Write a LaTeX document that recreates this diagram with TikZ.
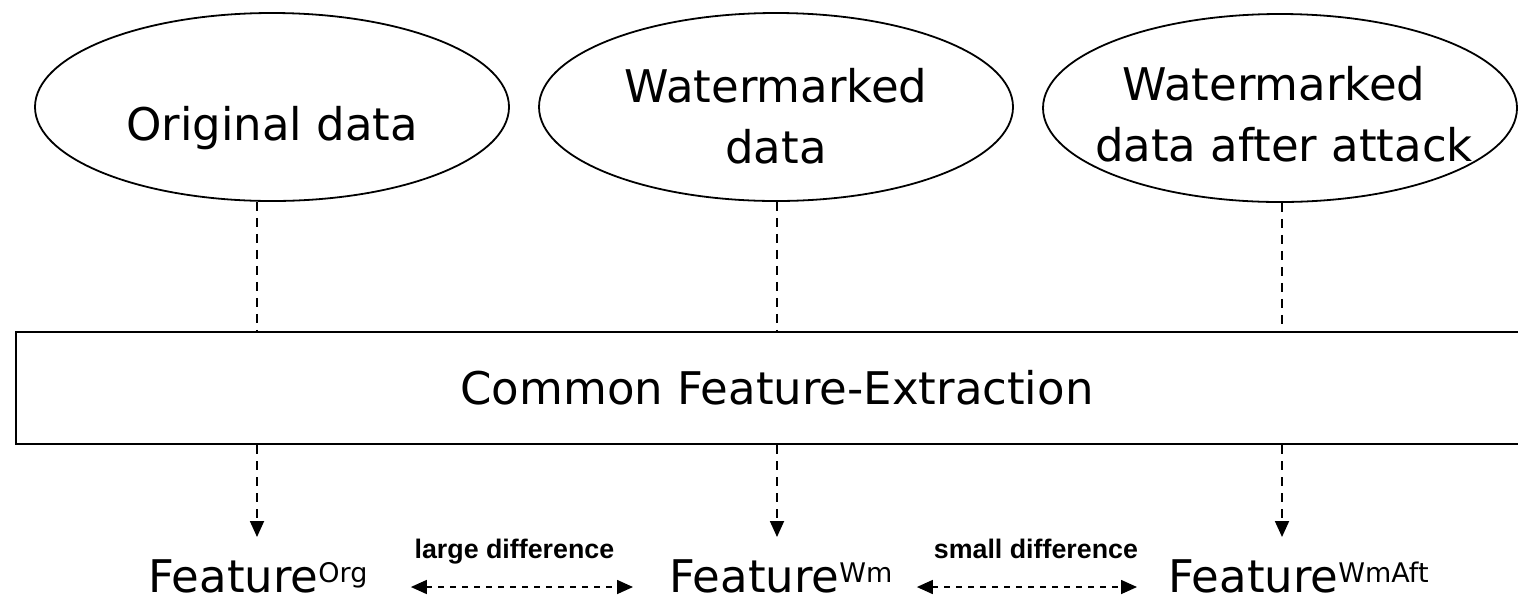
\documentclass[tikz,border=0pt]{standalone}
\usepackage{fontspec}
\setmainfont{DejaVu Sans}
\newfontfamily\lblfont{Liberation Sans}
\usetikzlibrary{arrows.meta,shapes.geometric}
\newcommand\featsup[1]{\raisebox{5pt}{\fontsize{13.5}{16}\selectfont #1}}
\begin{document}
\begin{tikzpicture}[x=0.5pt,y=-0.5pt,
  oval/.style={draw, ellipse, line width=0.9pt, minimum width=237pt, minimum height=94pt, inner sep=0pt},
  big/.style={font=\fontsize{22.5}{27}\selectfont, inner sep=0pt},
  lbl/.style={font=\lblfont\bfseries\fontsize{13.4}{16}\selectfont, inner sep=0pt},
  vdash/.style={line width=0.9pt, dash pattern=on 4.5pt off 3.5pt},
  tipv/.style={-{Triangle[length=8pt,width=7pt]}},
  hdash/.style={line width=0.8pt, dash pattern=on 3pt off 3pt,
    {Triangle[length=8pt,width=7pt]}-{Triangle[length=8pt,width=7pt]}}]
\useasboundingbox (0,0) rectangle (1518,601);
\clip (0,0) rectangle (1518,601);
% ellipses
\node[oval] (e1) at (272,107) {};
\node[oval] (e2) at (776,107) {};
\node[oval] (e3) at (1280,108) {};
\node[big, anchor=base] (t1) at (272,140) {Original data};
\node[big, anchor=base] (t2a) at (776,102) {Watermarked};
\node[big, anchor=base] (t2b) at (776,163) {data};
\node[big, anchor=base] (t3a) at (1274,100) {Watermarked};
\node[big, anchor=base] (t3b) at (1284,161) {data after attack};
% common box
\node[draw, line width=1pt, big, minimum width=761pt, minimum height=56pt] (box) at (777,388) {Common Feature-Extraction};
% arrow tips
\coordinate (a1) at (257,537);
\coordinate (a2) at (777,537);
\coordinate (a3) at (1282,537);
\draw[vdash] (e1.south -| a1) -- (box.north -| a1);
\draw[vdash] (e2.south -| a2) -- (box.north -| a2);
\draw[vdash] (e3.south -| a3) -- (box.north -| a3);
\draw[vdash, tipv] (box.south -| a1) -- (a1);
\draw[vdash, tipv] (box.south -| a2) -- (a2);
\draw[vdash, tipv] (box.south -| a3) -- (a3);
% features
\node[big, anchor=base west] (f1) at (148,592) {Feature\featsup{Org}};
\node[big, anchor=base west] (f2) at (669,592) {Feature\featsup{Wm}};
\node[big, anchor=base west] (f3) at (1168,592) {Feature\featsup{WmAft}};
\draw[hdash, shorten <=21.5pt, shorten >=18pt] ([yshift=2.5pt]f1.base east) -- ([yshift=2.5pt]f2.base west)
  node[lbl, midway, anchor=base, yshift=14.5pt, xshift=-2pt] {large difference};
\draw[hdash, shorten <=12pt, shorten >=15.5pt] ([yshift=2.5pt]f2.base east) -- ([yshift=2.5pt]f3.base west)
  node[lbl, midway, anchor=base, yshift=14.5pt, xshift=2.75pt] {small difference};
\end{tikzpicture}
\end{document}
